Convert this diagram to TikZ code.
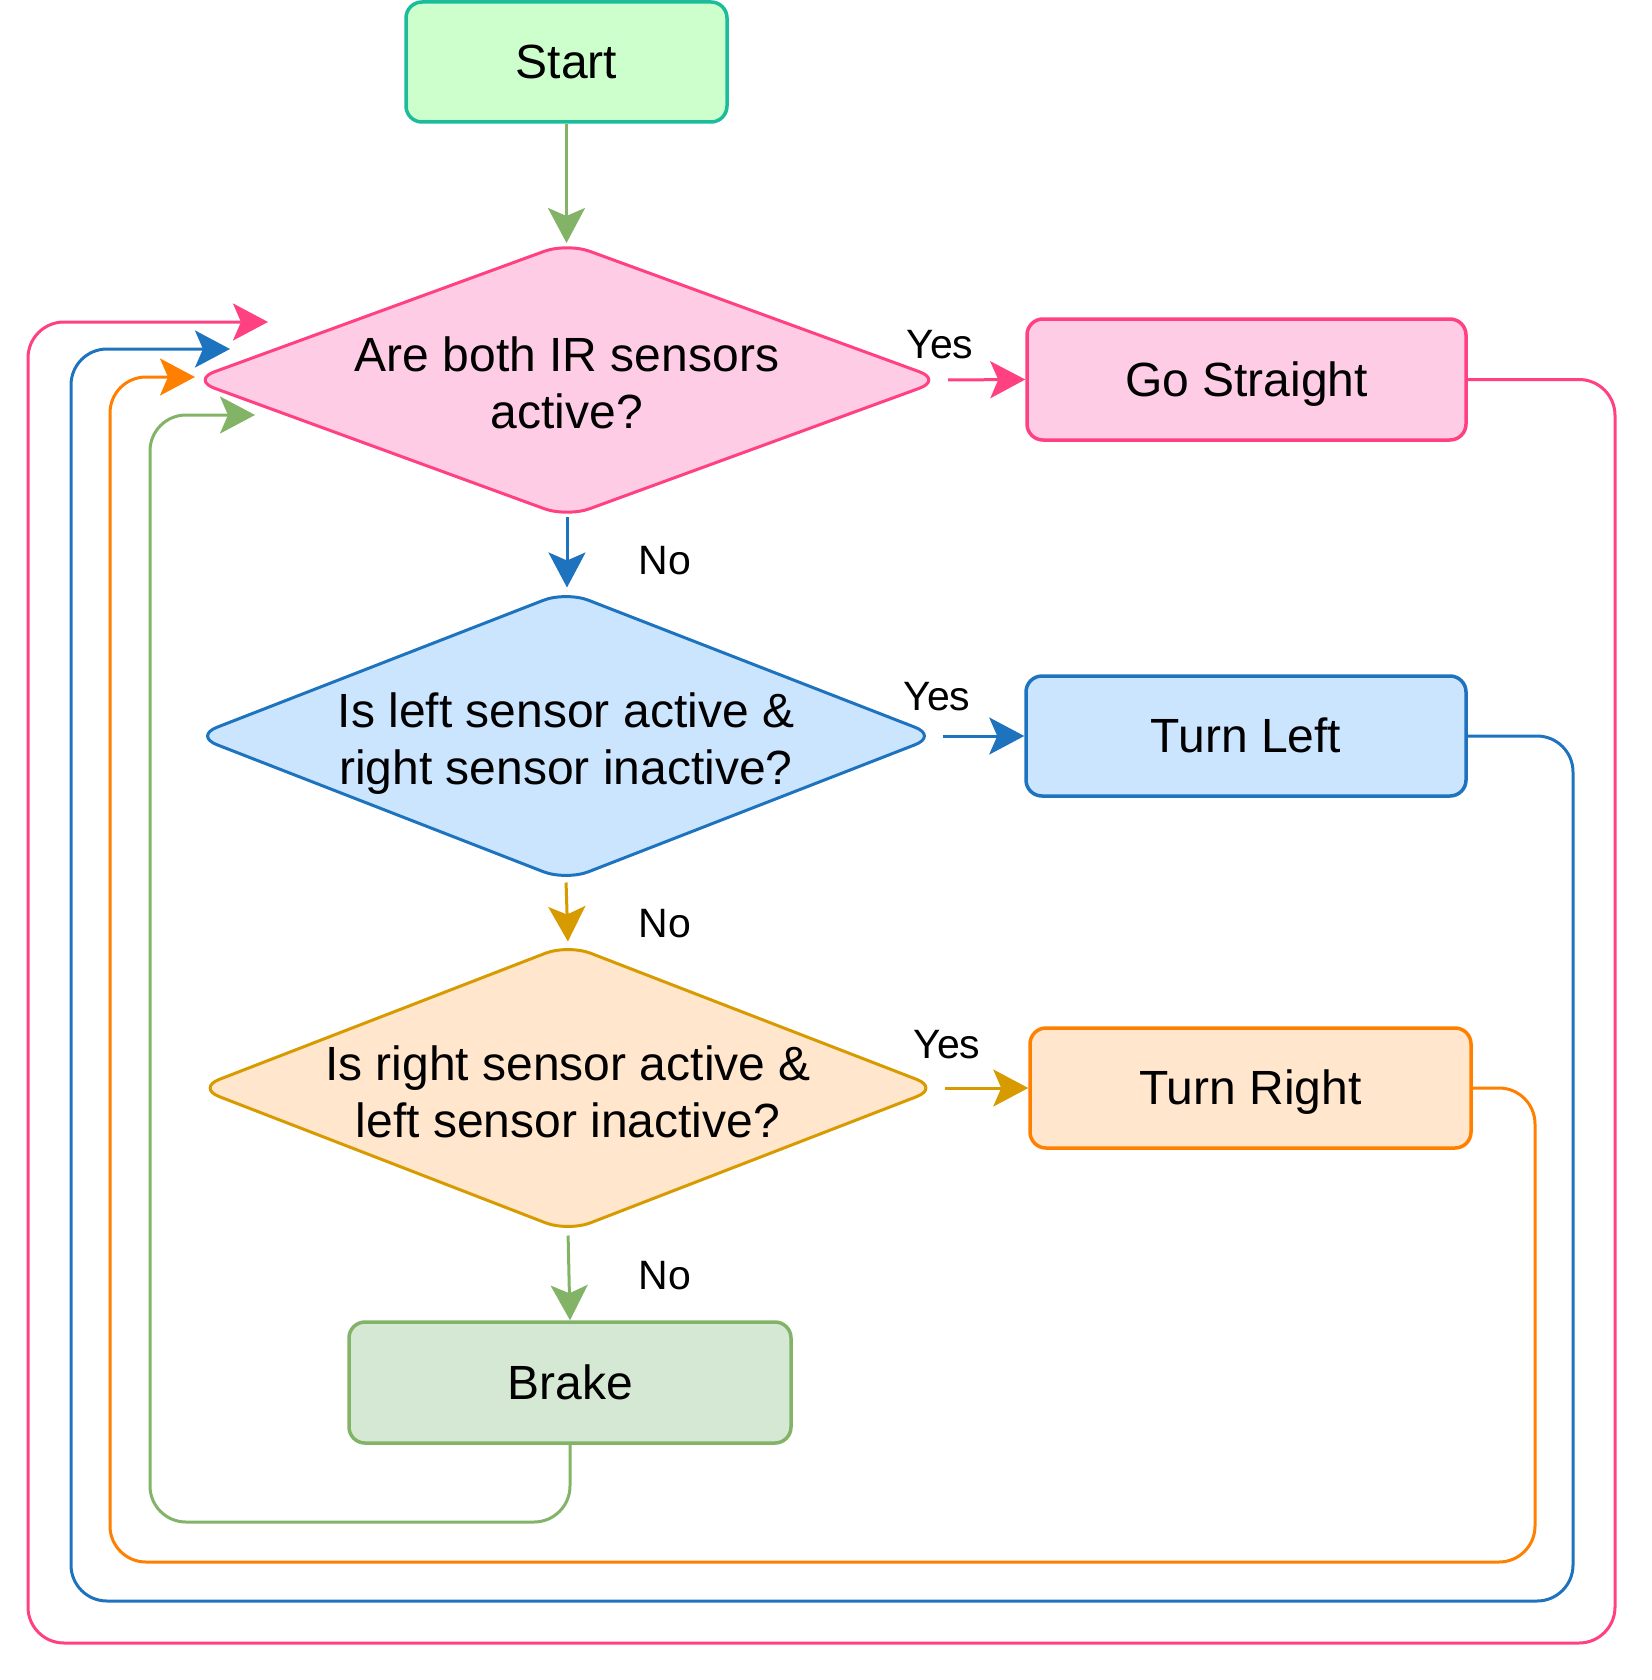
\documentclass[tikz,border=0pt]{standalone}
\usepackage{fontspec}
\setmainfont{Liberation Sans}
\usetikzlibrary{shapes.geometric,arrows.meta}
\definecolor{pinkS}{HTML}{FF4081}
\definecolor{pinkF}{HTML}{FFCCE6}
\definecolor{blueS}{HTML}{1E73BE}
\definecolor{blueF}{HTML}{CCE5FF}
\definecolor{goldS}{HTML}{D79B00}
\definecolor{orangeS}{HTML}{FF8000}
\definecolor{orangeF}{HTML}{FFE6CC}
\definecolor{greenS}{HTML}{82B366}
\definecolor{greenF}{HTML}{D5E8D4}
\definecolor{startS}{HTML}{1ABC9C}
\definecolor{startF}{HTML}{CCFFCC}
\begin{document}
\begin{tikzpicture}[x=0.5pt,y=-0.5pt,
  box/.style={draw, rounded corners=8pt, line width=1.75pt, inner sep=0pt,
    text height=16.5pt, text depth=0pt,
    minimum width=220pt, minimum height=60pt, font=\fontsize{24}{28.5}\selectfont},
  dia/.style={diamond, draw, line width=1.5pt, rounded corners=12pt, inner sep=0pt, outer sep=0pt},
  diatext/.style={align=center, inner sep=0pt, font=\fontsize{24}{28.5}\selectfont},
  lbl/.style={inner sep=0pt, font=\fontsize{20.5}{24}\selectfont},
  conn/.style={line width=1.5pt, -{Stealth[length=17.5pt,width=18.5pt,inset=4pt]}},
  loopline/.style={conn, rounded corners=18pt}]
\useasboundingbox (0,0) rectangle (1652,1680);

% nodes
\node[box, fill=startF, draw=startS, minimum width=160.5pt, minimum height=60pt] (start) at (566.5,62) {Start};

\node[dia, fill=pinkF, draw=pinkS, minimum width=375pt, minimum height=137pt,
  label={[diatext, name=d1t, yshift=-1.5pt]center:Are both IR sensors\\active?}] (d1) at (567,380) {};
\node[dia, fill=blueF, draw=blueS, minimum width=371.5pt, minimum height=144.5pt,
  label={[diatext, name=d2t, yshift=-4pt]center:Is left sensor active \&\\right sensor inactive?}] (d2) at (566,736) {};
\node[dia, fill=orangeF, draw=goldS, minimum width=371pt, minimum height=143.5pt,
  label={[diatext, name=d3t, yshift=-2pt]center:Is right sensor active \&\\left sensor inactive?}] (d3) at (568,1088) {};

\node[box, fill=pinkF, draw=pinkS, minimum width=219.5pt, minimum height=60.5pt] (gs) at (1246.5,379.5) {Go Straight};
\node[box, fill=blueF, draw=blueS, minimum width=220pt, minimum height=60pt] (tl) at (1246,736) {Turn Left};
\node[box, fill=orangeF, draw=orangeS, minimum width=220.5pt, minimum height=60pt] (tr) at (1250.5,1088) {Turn Right};
\node[box, fill=greenF, draw=greenS, minimum width=221pt, minimum height=60.5pt] (brake) at (570,1382.5) {Brake};

% labels
\node[lbl] (yes1) at (940,345) {Yes};
\node[lbl] (yes2) at (937,697) {Yes};
\node[lbl] (yes3) at (947,1045) {Yes};
\node[lbl] (no1) at (665,561) {No};
\node[lbl] (no2) at (665,924) {No};
\node[lbl] (no3) at (665,1276) {No};

% loop ends
\coordinate (p1) at (268,322);
\coordinate (p2) at (230,349);
\coordinate (p3) at (195,377);
\coordinate (p4) at (255,415);

% straight connectors
\draw[conn, draw=greenS] (start.south) -- (start.south |- d1.north);
\draw[conn, draw=blueS, shorten >=2pt] (d1.south) -- (d1.south |- d2.north);
\draw[conn, draw=goldS, shorten <=1pt, shorten >=1.5pt] (d2.south) -- (d3.north);
\draw[conn, draw=greenS, shorten <=2pt] (d3.south) -- (brake.north);
\draw[conn, draw=pinkS, shorten <=3pt] (d1.east) -- (gs.west);
\draw[conn, draw=blueS, shorten <=2.5pt] (d2.east) -- (tl.west);
\draw[conn, draw=goldS, shorten <=3pt] (d3.east) -- (tr.west);

% return loops
\draw[loopline, draw=pinkS] (gs.east) -| (1615,1643) -- (28,1643) |- (p1);
\draw[loopline, draw=blueS] (tl.east) -| (1573,1601) -- (71,1601) |- (p2);
\draw[loopline, draw=orangeS] (tr.east) -| (1535,1562) -- (110,1562) |- (p3);
\draw[loopline, draw=greenS] (brake.south) |- (150,1522) |- (p4);
\end{tikzpicture}
\end{document}
